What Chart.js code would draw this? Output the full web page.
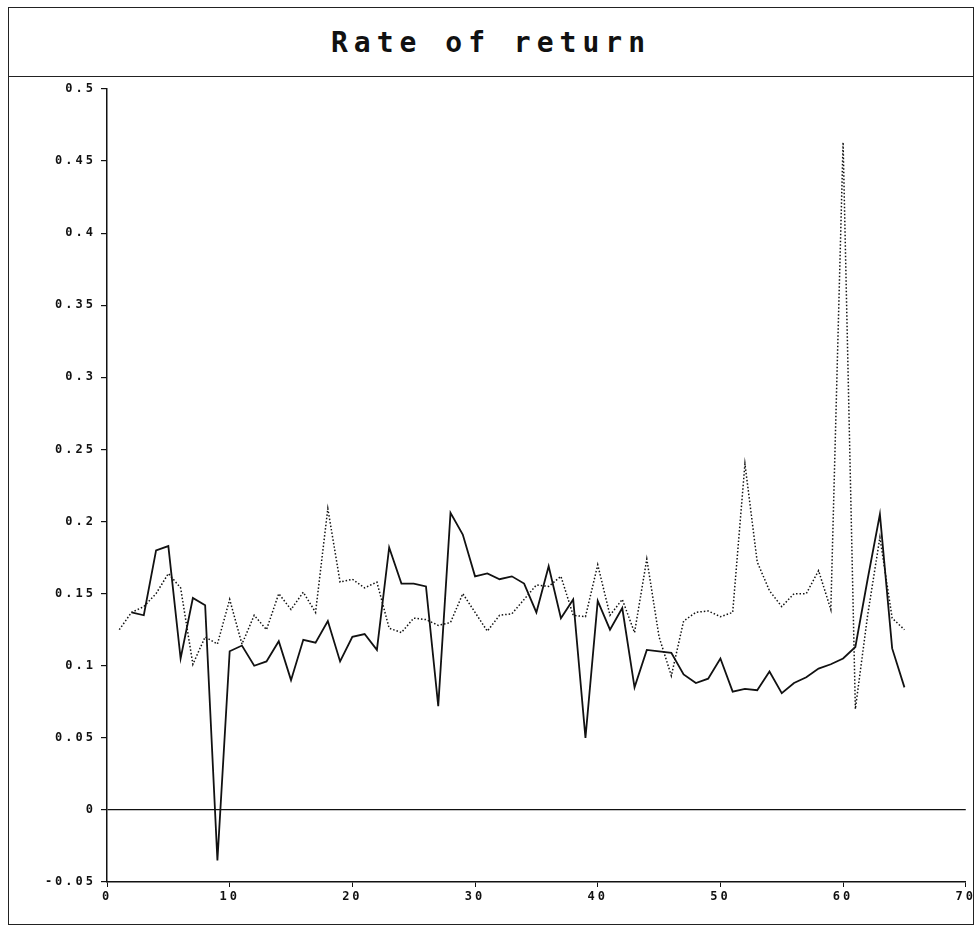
<!DOCTYPE html>
<html>
<head>
<meta charset="utf-8">
<title>Rate of return</title>
<script src="https://cdn.jsdelivr.net/npm/chart.js@4.4.1/dist/chart.umd.min.js"></script>
<style>
  html, body { margin: 0; padding: 0; background: #fff; }
  .frame {
    position: absolute; left: 8px; top: 7px; width: 966px; height: 918px;
    border: 1px solid #222; box-sizing: border-box;
  }
  .title-box {
    position: absolute; left: 0; top: 0; right: 0; height: 68px;
    border-bottom: 1px solid #222;
    display: flex; align-items: center; justify-content: center;
    font-family: "DejaVu Sans Mono", monospace; font-weight: bold; font-size: 28px;
    letter-spacing: 6px; color: #111;
  }
  #chart { position: absolute; left: 0; top: 0; }
</style>
</head>
<body>
<div class="frame"><div class="title-box">Rate of return</div></div>
<canvas id="chart" width="979" height="928"></canvas>
<script>
// Data
const periods = [1, 2, 3, 4, 5, 6, 7, 8, 9, 10, 11, 12, 13, 14, 15, 16, 17, 18, 19, 20,
  21, 22, 23, 24, 25, 26, 27, 28, 29, 30, 31, 32, 33, 34, 35, 36, 37, 38, 39, 40,
  41, 42, 43, 44, 45, 46, 47, 48, 49, 50, 51, 52, 53, 54, 55, 56, 57, 58, 59, 60,
  61, 62, 63, 64, 65];

const solidReturns = [null, 0.137, 0.135, 0.180, 0.183, 0.105, 0.147, 0.142, -0.035, 0.110,
  0.114, 0.100, 0.103, 0.117, 0.090, 0.118, 0.116, 0.131, 0.103, 0.120,
  0.122, 0.111, 0.182, 0.157, 0.157, 0.155, 0.072, 0.206, 0.191, 0.162,
  0.164, 0.160, 0.162, 0.157, 0.137, 0.169, 0.133, 0.146, 0.050, 0.145,
  0.125, 0.140, 0.085, 0.111, 0.110, 0.109, 0.094, 0.088, 0.091, 0.105,
  0.082, 0.084, 0.083, 0.096, 0.081, 0.088, 0.092, 0.098, 0.101, 0.105,
  0.113, 0.160, 0.205, 0.112, 0.085];

const dottedReturns = [0.125, 0.137, 0.141, 0.150, 0.164, 0.154, 0.101, 0.120, 0.115, 0.146,
  0.115, 0.135, 0.125, 0.150, 0.139, 0.151, 0.137, 0.209, 0.158, 0.160,
  0.154, 0.158, 0.126, 0.123, 0.133, 0.132, 0.128, 0.130, 0.150, 0.137,
  0.124, 0.135, 0.136, 0.146, 0.156, 0.155, 0.162, 0.135, 0.134, 0.170,
  0.135, 0.146, 0.123, 0.174, 0.120, 0.093, 0.131, 0.137, 0.138, 0.134,
  0.137, 0.240, 0.172, 0.152, 0.141, 0.150, 0.150, 0.166, 0.139, 0.463,
  0.070, 0.135, 0.189, 0.133, 0.125];

const xTicks = [0, 10, 20, 30, 40, 50, 60, 70];
const yTicks = [-0.05, 0, 0.05, 0.1, 0.15, 0.2, 0.25, 0.3, 0.35, 0.4, 0.45, 0.5];

function toPoints(values) {
  return periods.map((p, i) => ({ x: p, y: values[i] }));
}

// wide plotter-style lettering on the axes
const spacingPlugin = {
  id: 'spacing',
  beforeLayout(chart) { chart.ctx.letterSpacing = '3px'; },
  beforeDraw(chart) { chart.ctx.letterSpacing = '3px'; }
};

const tickFont = { family: '"DejaVu Sans Mono", monospace', size: 12, weight: 'bold' };

new Chart(document.getElementById('chart'), {
  type: 'line',
  data: {
    datasets: [
      {
        label: 'solid',
        data: toPoints(solidReturns),
        borderColor: '#111',
        borderWidth: 1.8,
        pointRadius: 0,
        tension: 0,
        spanGaps: false
      },
      {
        label: 'dotted',
        data: toPoints(dottedReturns),
        borderColor: '#111',
        borderWidth: 1.5,
        borderDash: [1.5, 2],
        pointRadius: 0,
        tension: 0
      }
    ]
  },
  options: {
    responsive: false,
    animation: false,
    layout: { padding: { left: 0, right: 13, top: 89, bottom: 0 } },
    plugins: { legend: { display: false }, tooltip: { enabled: false } },
    scales: {
      x: {
        type: 'linear',
        min: xTicks[0],
        max: xTicks[xTicks.length - 1],
        afterBuildTicks: scale => { scale.ticks = xTicks.map(v => ({ value: v })); },
        afterFit: scale => { scale.height = 46; },
        border: { display: true, color: '#111', width: 1.5 },
        grid: { drawOnChartArea: false, drawTicks: true, tickLength: 5, tickColor: '#111' },
        ticks: { color: '#111', font: tickFont, padding: 3, maxRotation: 0 }
      },
      y: {
        type: 'linear',
        min: yTicks[0],
        max: yTicks[yTicks.length - 1],
        afterBuildTicks: scale => { scale.ticks = yTicks.map(v => ({ value: v })); },
        afterFit: scale => { scale.width = 107; },
        border: { display: true, color: '#111', width: 1.5 },
        grid: {
          drawOnChartArea: true,
          tickLength: 6,
          tickColor: '#111',
          lineWidth: 1.2,
          color: ctx => (ctx.tick && Math.abs(ctx.tick.value) < 1e-9 ? '#111' : 'rgba(0,0,0,0)')
        },
        ticks: {
          color: '#111',
          font: tickFont,
          padding: 5,
          callback: v => String(Math.round(v * 100) / 100)
        }
      }
    }
  },
  plugins: [spacingPlugin]
});
</script>
</body>
</html>
